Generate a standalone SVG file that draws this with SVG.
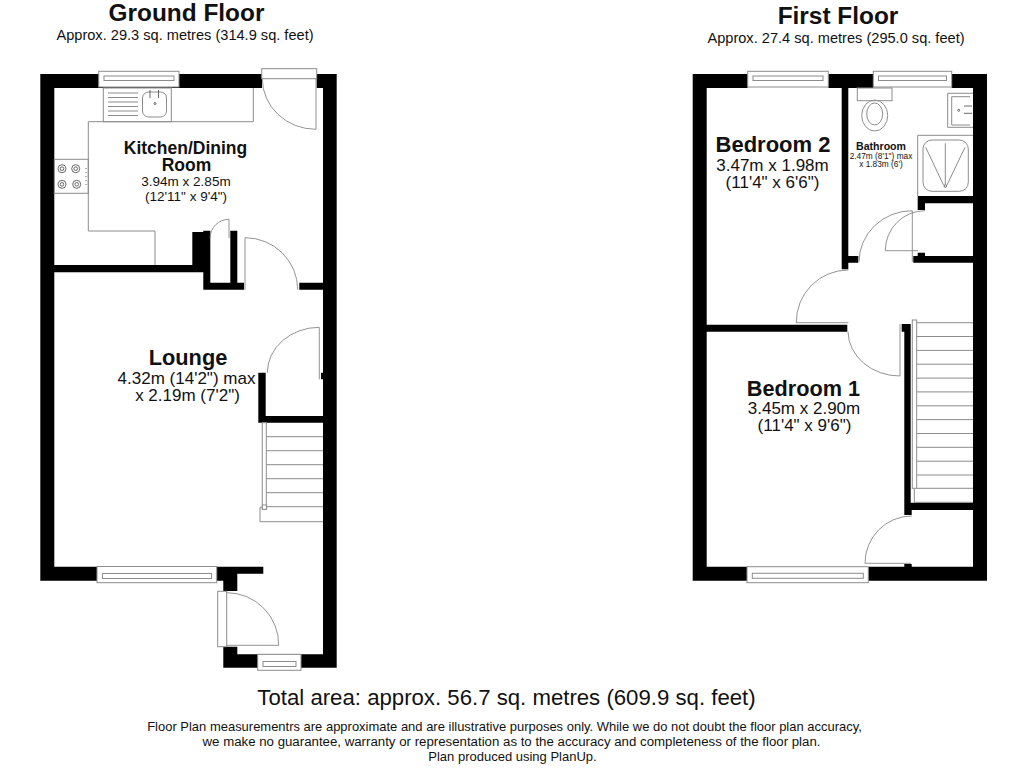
<svg xmlns="http://www.w3.org/2000/svg" width="1024" height="768" viewBox="0 0 1024 768">
<style>
text{font-family:"Liberation Sans",Arial,sans-serif;fill:#111;text-anchor:middle}
.b{font-weight:bold}
.w{fill:#000;stroke:none}
.l{fill:#fff;stroke:#8c8c8c;stroke-width:1}
.n{fill:none;stroke:#8c8c8c;stroke-width:1}
.d{fill:none;stroke:#777;stroke-width:.8}
.a{fill:none;stroke:#444;stroke-width:.8}
</style>
<defs>
<g id="ring"><circle r="4" class="a"/><circle r="1.8" class="a"/></g>
</defs>
<rect width="1024" height="768" fill="#fff"/>
<g id="ground-floor">
<path class="w" d="M40.3 74H262V88H54.3V265H192.3V232H203.3V230.7H210.3V282.7H230.3V230.7H237.3V282.7H244V289.7H203.3V272.3H54.3V566.7H97V580.7H40.3Z"/>
<path class="w" d="M316.7 74H336.7V667.7H223.3V646.7H237.3V654.3H323V422.7H258.3V372.7H265.7V416H323V379.3H321V372.7H323V289.7H299.3V282.7H323V88H316.7Z"/>
<path class="w" d="M216.7 566.7H263.3V573.7H237.3V591H223.3V580.7H216.7Z"/>
<g id="kitchen-fittings">
<path class="n" d="M88.3 121.7V231H155V265M88.3 121.7H253.3V88"/>
<rect class="n" x="103.3" y="88" width="68" height="33.7"/>
<path class="n" d="M108 93H138M108 97.5H138M108 102H138M108 106.5H138M108 111H138M108 115.5H138"/>
<rect class="n" x="142.5" y="92" width="24" height="25" rx="6"/>
<path class="a" d="M150 90V98M158.5 90V98" stroke-width="1.5"/>
<circle class="a" cx="155" cy="103.5" r="1"/>
<rect class="n" x="54.3" y="159.3" width="34" height="34"/>
<use href="#ring" x="62" y="168.7"/><use href="#ring" x="75.7" y="168.7"/><use href="#ring" x="62" y="184.3"/><use href="#ring" x="76.7" y="184.3"/>
<path class="a" stroke-dasharray="1 3" d="M86 168V188"/>
</g>
<g id="ground-windows">
<rect class="l" x="98.7" y="71.3" width="80.3" height="15.7"/><rect class="n" x="104" y="76" width="70" height="4.5"/>
<rect class="l" x="97" y="566.5" width="119.7" height="16.2"/><rect class="n" x="102.5" y="573.5" width="109" height="5"/>
<rect class="l" x="257.7" y="654.3" width="43.3" height="16"/><rect class="n" x="263" y="661.5" width="33" height="5"/>
</g>
<g id="ground-doors">
<rect class="l" x="261.7" y="68.7" width="55" height="10"/>
<path class="d" d="M262.3 78.7A53.7 50.6 0 0 0 316 129.3V78.7"/>
<rect class="l" x="217.7" y="591.3" width="9" height="55.4"/>
<path class="d" d="M226.7 592.7A52 52 0 0 1 278.7 645.3H226.7"/>
<path class="d" d="M210 238A19 19 0 0 1 229 219.3V238"/>
<path class="d" d="M245 289.7V237.7A52.7 52 0 0 1 297.7 289.7"/>
<path class="d" d="M267.3 372.7A52 45.5 0 0 1 319.3 327.3V379.3"/>
</g>
<g id="ground-stairs">
<path class="n" d="M266 436.7H323M266 450.7H323M266 464.7H323M266 478.7H323M266 492.7H323M266 506.7H323"/>
<rect class="l" x="262.3" y="422.7" width="4" height="86.6"/>
<path class="n" d="M262 507.3H260V521.7H323"/>
<rect class="l" x="262.3" y="505" width="4.3" height="4.3"/>
</g>
<g id="ground-labels">
<text class="b" x="186.5" y="21" font-size="24.4">Ground Floor</text>
<text x="185" y="40" font-size="14.6">Approx. 29.3 sq. metres (314.9 sq. feet)</text>
<text class="b" x="185.5" y="153.5" font-size="17.5">Kitchen/Dining</text>
<text class="b" x="186.5" y="171" font-size="17.5">Room</text>
<text x="186" y="186" font-size="13.5">3.94m x 2.85m</text>
<text x="186" y="201" font-size="13.5">(12'11" x 9'4")</text>
<text class="b" x="188" y="364.5" font-size="21.8">Lounge</text>
<text x="186.5" y="384" font-size="17">4.32m (14'2") max</text>
<text x="187.5" y="401" font-size="17">x 2.19m (7'2")</text>
</g>
</g>
<g id="first-floor">
<path class="w" d="M692.7 74H747.7V88H706.7V324.7H847.3V331.7H706.7V566.7H747V580.7H692.7Z"/>
<path class="w" d="M828.3 74H873.3V88H848.3V256H858.3V262.7H848.3V269.3H841.7V88H828.3Z"/>
<path class="w" d="M951.7 74H987V580.7H868.3V566.7H904.3V564H911.7V566.7H973V510H911.7V515H904.3V331.7H901.7V324H910.7V502.7H973V262.7H913.3V256H917.7V252.7H925V256H973V203.3H925V210H917.7V196H973V88H951.7Z"/>
<g id="first-windows">
<rect class="l" x="747.7" y="71.3" width="80.6" height="15.7"/><rect class="n" x="753" y="76" width="70" height="4.5"/>
<rect class="l" x="873.3" y="71.3" width="78.4" height="15.7"/><rect class="n" x="878.5" y="76" width="68" height="4.5"/>
<rect class="l" x="747" y="566.7" width="121.3" height="16"/><rect class="n" x="752.3" y="573.3" width="111" height="5"/>
</g>
<g id="bathroom-fittings">
<rect class="n" x="857.3" y="88" width="34.7" height="12.7"/>
<ellipse class="n" cx="874.7" cy="115.5" rx="13" ry="15.5"/>
<ellipse class="n" cx="874.7" cy="114" rx="8" ry="11"/>
<path class="n" d="M973 93.3H947.7V127.3H973"/>
<path class="n" d="M970 96.7H951.7V125H970"/>
<path class="a" stroke-width="1.5" d="M964 106H972M964 113.3H972"/>
<circle class="a" cx="958.7" cy="110.3" r="1"/>
<path class="n" d="M973 135.3H917.7V196"/>
<rect class="n" x="923" y="140" width="45.3" height="51.3" rx="9"/>
<path class="n" d="M945.3 143.3V184M925.7 147.3L943.5 185M965 147.3L947 185"/>
<circle class="a" cx="945.3" cy="186" r="1.3"/>
</g>
<g id="first-doors">
<path class="d" d="M796.3 322.7A52 52 0 0 1 848.3 270M796.3 322.7H848.3"/>
<path class="d" d="M848 331.7A52 45 0 0 0 900 376V324"/>
<path class="d" d="M859 262A53.3 51.3 0 0 1 912.3 210.7V262"/>
<path class="d" d="M885.3 250.7A39.7 40 0 0 1 925 210.7M885.3 250.7H918"/>
<path class="d" d="M865 563.3A46.7 47.3 0 0 1 911.7 516M865 563.3H911"/>
</g>
<g id="first-stairs">
<path class="n" d="M916.7 322.7H973M916.7 336.5H973M916.7 350.4H973M916.7 364.2H973M916.7 378.1H973M916.7 391.9H973M916.7 405.8H973M916.7 419.6H973M916.7 433.5H973M916.7 447.3H973M916.7 461.2H973M916.7 475H973M916.7 488.3H973"/>
<rect class="l" x="912.3" y="320" width="4.4" height="168.3"/>
<path class="n" d="M914.3 488.3V502.3H973"/>
</g>
<g id="first-labels">
<text class="b" x="838" y="24" font-size="24.4">First Floor</text>
<text x="836" y="43" font-size="14.6">Approx. 27.4 sq. metres (295.0 sq. feet)</text>
<text class="b" x="773" y="152" font-size="22">Bedroom 2</text>
<text x="772.5" y="171" font-size="17">3.47m x 1.98m</text>
<text x="772.5" y="188" font-size="17">(11'4" x 6'6")</text>
<text class="b" x="881" y="150" font-size="10.6">Bathroom</text>
<text x="881" y="159" font-size="8.3">2.47m (8'1") max</text>
<text x="881" y="167" font-size="8.3">x 1.83m (6')</text>
<text class="b" x="803.5" y="396" font-size="21.7">Bedroom 1</text>
<text x="804" y="414" font-size="17">3.45m x 2.90m</text>
<text x="804.5" y="431" font-size="17">(11'4" x 9'6")</text>
</g>
</g>
<g id="footer">
<text x="506.5" y="705" font-size="22.2">Total area: approx. 56.7 sq. metres (609.9 sq. feet)</text>
<text x="504.5" y="731" font-size="12.98">Floor Plan measurementrs are approximate and are illustrative purposes only. While we do not doubt the floor plan accuracy,</text>
<text x="511.5" y="746" font-size="13.25">we make no guarantee, warranty or representation as to the accuracy and completeness of the floor plan.</text>
<text x="512.5" y="761" font-size="13">Plan produced using PlanUp.</text>
</g>
</svg>
